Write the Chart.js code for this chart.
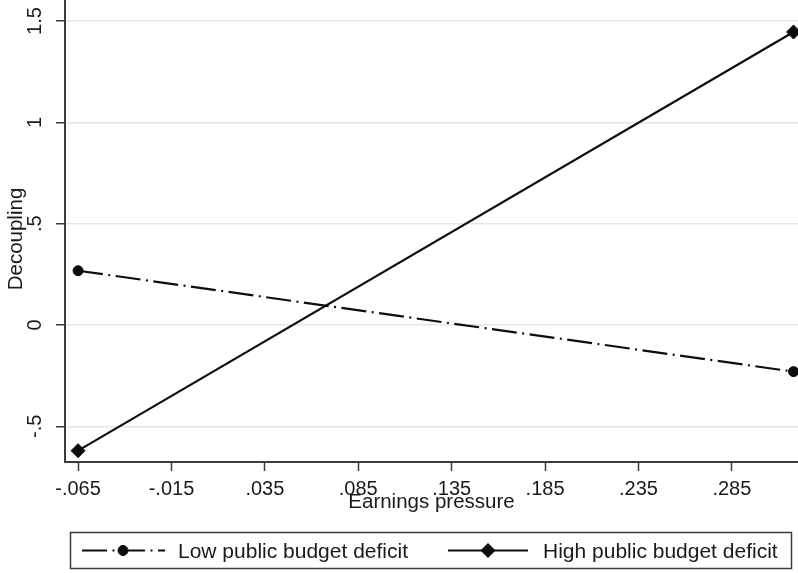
<!DOCTYPE html>
<html>
<head>
<meta charset="utf-8">
<script src="https://cdn.jsdelivr.net/npm/chart.js@4"></script>
<style>
  html, body { margin: 0; padding: 0; background: #fff; }
  #wrap { width: 798px; height: 573px; }
</style>
</head>
<body>
<div id="wrap"><canvas id="c" width="798" height="573"></canvas></div>
<script>
// Predicted decoupling at low / high earnings pressure
const earningsPressure = [-0.065, 0.318];
const lowDeficit = [0.268, -0.230];
const highDeficit = [-0.620, 1.446];
const seriesNames = ['Low public budget deficit', 'High public budget deficit'];

const xTickValues = [-0.065, -0.015, 0.035, 0.085, 0.135, 0.185, 0.235, 0.285];
const yTickValues = [-0.5, 0, 0.5, 1, 1.5];

const xTitle = 'Earnings pressure';
const yTitle = 'Decoupling';

const FONT = '"Liberation Sans", Arial, Helvetica, sans-serif';
const INK = '#1a1a1a';
const AXIS = '#3c3c3c';
const LINE = '#0d0d0d';

// Stata-style numbers: drop the leading zero (".035", "-.5")
function stataNum(v, digits) {
  const s = digits == null ? String(Math.abs(v)) : Math.abs(v).toFixed(digits);
  const t = s.replace(/^0(?=\.)/, '');
  return (v < 0 ? '-' : '') + t;
}

const toPoints = ys => earningsPressure.map((x, i) => ({ x, y: ys[i] }));

// Rotated y tick labels and y axis title
const yAxisText = {
  id: 'yAxisText',
  afterDraw(chart) {
    const { ctx, scales: { y } } = chart;
    ctx.save();
    ctx.fillStyle = INK;
    ctx.textAlign = 'center';
    ctx.textBaseline = 'middle';
    ctx.font = '20px ' + FONT;
    yTickValues.forEach(v => {
      const py = y.getPixelForValue(v);
      ctx.save();
      ctx.translate(35, py);
      ctx.rotate(-Math.PI / 2);
      ctx.fillText(stataNum(v), 0, 0);
      ctx.restore();
    });
    ctx.font = '20.5px ' + FONT;
    ctx.translate(16, 239);
    ctx.rotate(-Math.PI / 2);
    ctx.fillText(yTitle, 0, 0);
    ctx.restore();
  }
};

// Boxed legend below the plot
const boxLegend = {
  id: 'boxLegend',
  afterDraw(chart) {
    const { ctx } = chart;
    const ds = chart.data.datasets;
    const box = { x: 70.5, y: 532.5, w: 721, h: 36 };
    const cy = box.y + box.h / 2;
    const items = [
      { x0: 82, x1: 165, mx: 123, tx: 178 },
      { x0: 448, x1: 528, mx: 488, tx: 543 }
    ];
    ctx.save();
    ctx.strokeStyle = AXIS;
    ctx.lineWidth = 1.5;
    ctx.strokeRect(box.x, box.y, box.w, box.h);
    items.forEach((it, i) => {
      const d = ds[i];
      ctx.save();
      ctx.strokeStyle = d.borderColor;
      ctx.lineWidth = d.borderWidth;
      ctx.setLineDash(d.borderDash || []);
      ctx.beginPath();
      ctx.moveTo(it.x0, cy);
      ctx.lineTo(it.x1, cy);
      ctx.stroke();
      ctx.restore();
      ctx.save();
      ctx.fillStyle = d.pointBackgroundColor;
      ctx.strokeStyle = d.pointBorderColor;
      ctx.lineWidth = d.pointBorderWidth;
      Chart.helpers.drawPoint(ctx, {
        pointStyle: d.pointStyle,
        radius: d.pointRadius,
        borderWidth: d.pointBorderWidth
      }, it.mx, cy);
      ctx.restore();
      ctx.fillStyle = INK;
      ctx.font = '21px ' + FONT;
      ctx.textAlign = 'left';
      ctx.textBaseline = 'middle';
      ctx.fillText(seriesNames[i], it.tx, cy + 2);
    });
    ctx.restore();
  }
};

new Chart(document.getElementById('c'), {
  type: 'line',
  data: {
    datasets: [
      {
        label: seriesNames[0],
        data: toPoints(lowDeficit),
        borderColor: LINE,
        backgroundColor: LINE,
        borderWidth: 2.2,
        borderDash: [25, 5.5, 2, 5.5],
        pointStyle: 'circle',
        pointRadius: 5,
        pointBackgroundColor: LINE,
        pointBorderColor: LINE,
        pointBorderWidth: 1,
        fill: false,
        tension: 0
      },
      {
        label: seriesNames[1],
        data: toPoints(highDeficit),
        borderColor: LINE,
        backgroundColor: LINE,
        borderWidth: 2.2,
        pointStyle: 'rectRot',
        pointRadius: 7,
        pointBackgroundColor: LINE,
        pointBorderColor: LINE,
        pointBorderWidth: 1,
        fill: false,
        tension: 0
      }
    ]
  },
  options: {
    responsive: false,
    animation: false,
    devicePixelRatio: 1,
    layout: { autoPadding: false, padding: { left: 0, right: 0, top: 0, bottom: 51 } },
    plugins: {
      legend: { display: false },
      tooltip: { enabled: false }
    },
    scales: {
      x: {
        type: 'linear',
        min: -0.072,
        max: 0.3204,
        afterBuildTicks: s => { s.ticks = xTickValues.map(value => ({ value })); },
        afterFit: s => {
          s.height = 60;
          s.paddingLeft = 0; s.paddingRight = 0; s.paddingTop = 0; s.paddingBottom = 0;
        },
        border: { display: true, color: AXIS, width: 2 },
        grid: { drawOnChartArea: false, drawTicks: true, tickLength: 9, tickColor: AXIS, tickWidth: 1.5 },
        ticks: {
          color: INK,
          font: { family: FONT, size: 20 },
          padding: 6,
          maxRotation: 0,
          autoSkip: false,
          callback: v => stataNum(v, 3)
        },
        title: {
          display: true,
          text: xTitle,
          color: INK,
          font: { family: FONT, size: 20.5 },
          padding: { top: 0, bottom: 7 }
        }
      },
      y: {
        type: 'linear',
        min: -0.676,
        max: 1.604,
        afterBuildTicks: s => { s.ticks = yTickValues.map(value => ({ value })); },
        afterFit: s => {
          s.width = 65;
          s.paddingLeft = 0; s.paddingRight = 0; s.paddingTop = 0; s.paddingBottom = 0;
        },
        border: { display: true, color: AXIS, width: 2 },
        grid: { color: '#e6e6e6', lineWidth: 1.5, drawTicks: true, tickLength: 9, tickColor: AXIS, tickWidth: 1.5 },
        ticks: { display: false }
      }
    }
  },
  plugins: [yAxisText, boxLegend]
});
</script>
</body>
</html>
